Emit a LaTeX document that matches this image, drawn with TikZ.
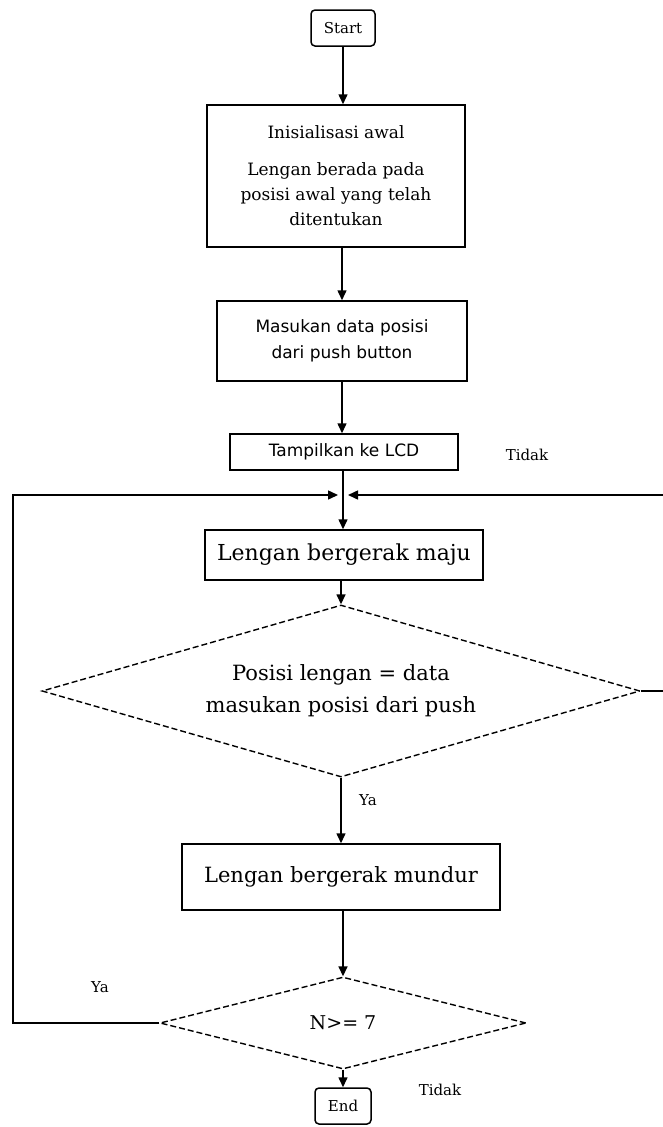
\documentclass[tikz,border=0pt]{standalone}
\usepackage{fontspec}
\setmainfont{DejaVu Serif}
\newfontfamily\boxsans{DejaVu Sans}
\usetikzlibrary{shapes.geometric,arrows.meta}

\tikzset{
  procbox/.style={draw,line width=1.5pt,rectangle,inner sep=2pt,align=center},
  termbox/.style={draw,line width=1.5pt,rectangle,rounded corners=4pt,inner sep=2pt},
  decbox/.style={draw,line width=1.4pt,diamond,dash pattern=on 6pt off 3pt,inner sep=0pt,align=center},
  flow/.style={line width=1.5pt,-{Triangle[length=10pt,width=9pt]}},
  loopline/.style={line width=1.5pt},
  lbl/.style={font=\fontsize{15}{17}\selectfont}
}

\begin{document}
\begin{tikzpicture}[x=1pt,y=-1pt]
  \useasboundingbox (0,0) rectangle (663,1127);

  % terminators and process boxes
  \node[termbox,minimum width=64pt,minimum height=36pt,font=\fontsize{15}{17}\selectfont] (start) at (343,28) {Start};
  \node[procbox,minimum width=258pt,minimum height=142pt,font=\fontsize{17}{25}\selectfont] (init) at (336,176)
    {Inisialisasi awal\\[12pt] Lengan berada pada\\ posisi awal yang telah\\ ditentukan};
  \node[procbox,minimum width=250pt,minimum height=80pt,font=\boxsans\fontsize{17}{26}\selectfont] (input) at (342,341)
    {Masukan data posisi\\ dari push button};
  \node[procbox,minimum width=228pt,minimum height=36pt,font=\boxsans\fontsize{17}{19}\selectfont] (lcd) at (344,452)
    {Tampilkan ke LCD};
  \node[procbox,minimum width=278pt,minimum height=50pt,font=\fontsize{22}{24}\selectfont] (maju) at (344,555)
    {Lengan bergerak maju};
  \node[decbox,aspect=3.48,minimum width=598pt,minimum height=172pt,font=\fontsize{21}{32}\selectfont] (cek) at (341,691)
    {Posisi lengan = data\\ masukan posisi dari push};
  \node[procbox,minimum width=318pt,minimum height=66pt,font=\fontsize{21}{23}\selectfont] (mundur) at (341,877)
    {Lengan bergerak mundur};
  \node[decbox,aspect=4,minimum width=366pt,minimum height=92pt,font=\fontsize{19}{21}\selectfont] (ulang) at (343,1023)
    {N>= 7};
  \node[termbox,minimum width=56pt,minimum height=36pt,font=\fontsize{15}{17}\selectfont] (end) at (343,1106) {End};

  % labels
  \node[lbl] (tidak1) at (527,455) {Tidak};
  \node[lbl] (ya1) at (368,800) {Ya};
  \node[lbl] (ya2) at (100,987) {Ya};
  \node[lbl] (tidak2) at (440,1090) {Tidak};

  \coordinate (join) at (343,495);
  \coordinate (kiri) at (13,495);
  \coordinate (kanan) at (668,495);

  % main flow
  \draw[flow] (start) -- (init.north -| start);
  \draw[flow] (init.south -| input) -- (input);
  \draw[flow] (input) -- (lcd.north -| input);
  \draw[loopline] (lcd.south -| join) -- (join);
  \draw[flow] (join) -- (maju.north -| join);
  \draw[flow] (maju.south -| cek) -- (cek.north);
  \draw[flow] (cek.south) -- (mundur.north -| cek);
  \draw[flow] (mundur.south -| ulang) -- (ulang.north);
  \draw[flow] (ulang.south) -- (end);

  % loops back
  \draw[flow] (ulang.west) -- (ulang.west -| kiri) -- (kiri) -- ([xshift=-5pt]join);
  \draw[flow] (cek.east) -- (cek.east -| kanan) -- (kanan) -- ([xshift=5pt]join);
\end{tikzpicture}
\end{document}
